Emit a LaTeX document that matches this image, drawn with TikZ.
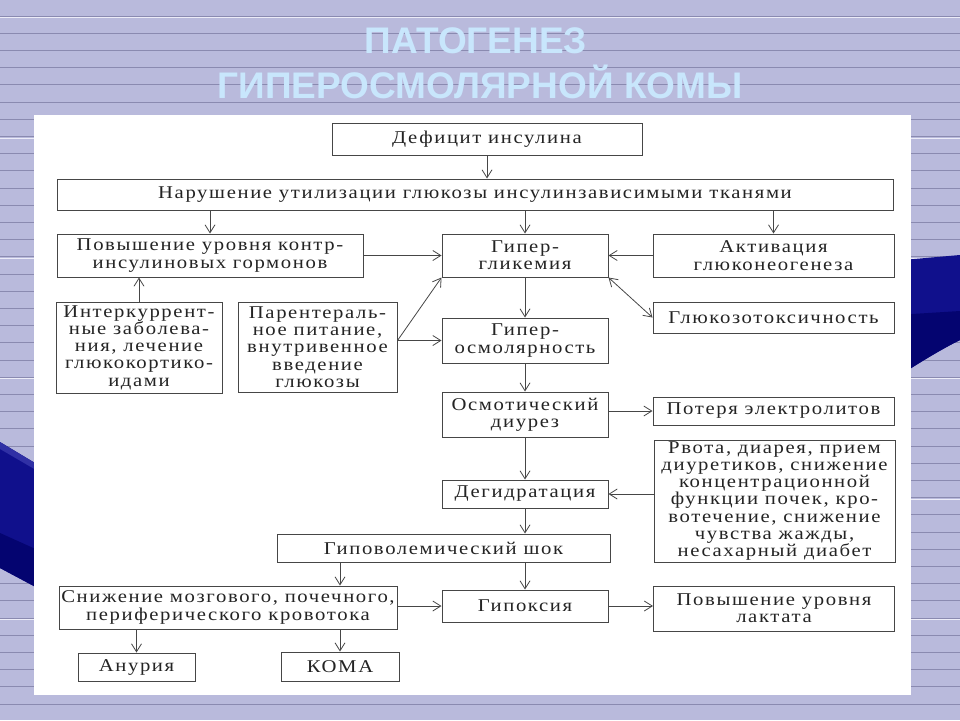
\documentclass[tikz,border=0pt]{standalone}
\usepackage{fontspec}
\setmainfont{Liberation Serif}[FakeStretch=1.15, LetterSpace=9]
\newfontfamily\titlefont{Liberation Sans}
\usetikzlibrary{arrows.meta}
\definecolor{slidebg}{RGB}{185,186,220}
\definecolor{ruleline}{RGB}{138,138,176}
\definecolor{ruleglow}{RGB}{236,236,248}
\definecolor{titleblue}{RGB}{200,230,252}
\definecolor{wavenavy}{RGB}{16,16,140}
\definecolor{wavedeep}{RGB}{4,4,112}
\definecolor{wavelite}{RGB}{48,48,165}
\definecolor{inkgray}{RGB}{36,36,36}
\definecolor{framegray}{RGB}{70,70,70}

\begin{document}
\begin{tikzpicture}[x=1pt, y=-1pt,
    box/.style={draw=framegray, line width=1pt, fill=white, align=center, inner sep=0pt,
        text=inkgray, font=\fontsize{18}{17.3}\selectfont},
    arr/.style={-{Straight Barb[length=8pt,width=10pt]}, draw=framegray, line width=0.8pt},
    dblarr/.style={{Straight Barb[length=8pt,width=10pt]}-{Straight Barb[length=8pt,width=10pt]}, draw=framegray, line width=0.8pt}
]
\useasboundingbox (0,0) rectangle (960,720);

% Ruled slide background
\fill[slidebg] (0,0) rectangle (960,720);
\foreach \k in {0,...,41}
    \draw[ruleline, line width=0.9pt] (0,16+17.2*\k) -- (960,16+17.2*\k);
\foreach \k in {0,7,...,35}
    \draw[ruleglow, line width=0.8pt] (0,17.5+17.2*\k) -- (960,17.5+17.2*\k);

% Left wave
\fill[wavenavy] (0,442) -- (60,478) -- (60,600) -- (0,568) -- cycle;
\fill[wavedeep] (0,533) -- (60,560) -- (60,600) -- (0,568) -- cycle;
\fill[wavelite] (0,442) -- (60,478) -- (60,484) -- (0,449) -- cycle;

% Right wave
\fill[wavenavy] (880,262) -- (960,255) -- (960,340) .. controls (940,350) and (920,362) .. (880,388) -- cycle;
\fill[wavedeep] (880,316) -- (960,311) -- (960,340) .. controls (940,350) and (920,362) .. (880,388) -- cycle;

% Title
\node[font=\titlefont\bfseries\fontsize{37}{37}\selectfont, text=titleblue] (title1) at (476,41) {ПАТОГЕНЕЗ};
\node[font=\titlefont\bfseries\fontsize{37}{37}\selectfont, text=titleblue] (title2) at (480,82) {ГИПЕРОСМОЛЯРНОЙ КОМЫ};

% White sheet
\fill[white] (34,115) rectangle (911,695);

% Top of the scheme
\node[box, minimum width=310, minimum height=32] (def) at (487,139) {Дефицит инсулина};
\node[box, minimum width=836, minimum height=31] (nar) at (475,194.5) {Нарушение утилизации глюкозы инсулинзависимыми тканями};

% Second row
\node[box, minimum width=306, minimum height=43] (kontr) at (210,255.5) {Повышение уровня контр-\\инсулиновых гормонов};
\node[box, minimum width=166, minimum height=43] (glik) at (525,255.5) {Гипер-\\гликемия};
\node[box, minimum width=241, minimum height=43] (akt) at (773.5,255.5) {Активация\\глюконеогенеза};

% Causes on the left
\node[box, minimum width=166, minimum height=91] (inter) at (139,347.5) {Интеркуррент-\\ные заболева-\\ния, лечение\\глюкокортико-\\идами};
\node[box, minimum width=159, minimum height=90] (parent) at (317.5,347) {Парентераль-\\ное питание,\\внутривенное\\введение\\глюкозы};

% Middle column
\node[box, minimum width=166, minimum height=45] (osm) at (525,340.5) {Гипер-\\осмолярность};
\node[box, minimum width=166, minimum height=45] (diur) at (525,414.5) {Осмотический\\диурез};
\node[box, minimum width=166, minimum height=28] (degid) at (525,494) {Дегидратация};
\node[box, minimum width=333, minimum height=28] (shok) at (443.5,548) {Гиповолемический шок};
\node[box, minimum width=166, minimum height=32] (hypox) at (525,606) {Гипоксия};

% Right column
\node[box, minimum width=241, minimum height=31] (tox) at (773.5,317.5) {Глюкозотоксичность};
\node[box, minimum width=241, minimum height=28] (elek) at (773.5,411) {Потеря электролитов};
\node[box, minimum width=241, minimum height=122] (rvota) at (774.5,501) {Рвота, диарея, прием\\диуретиков, снижение\\концентрационной\\функции почек, кро-\\вотечение, снижение\\чувства жажды,\\несахарный диабет};
\node[box, minimum width=241, minimum height=45] (laktat) at (774,608.5) {Повышение уровня\\лактата};

% Bottom row
\node[box, minimum width=338, minimum height=43] (sniz) at (228,607.5) {Снижение мозгового, почечного,\\периферического кровотока};
\node[box, minimum width=117, minimum height=28] (anur) at (136.5,667) {Анурия};
\node[box, minimum width=118, minimum height=29] (koma) at (340,666.5) {КОМА};

% Arrows
\draw[arr] (def) -- (def |- nar.north);
\draw[arr] (nar.south -| kontr) -- (kontr);
\draw[arr] (nar.south -| glik) -- (glik);
\draw[arr] (nar.south -| akt) -- (akt);
\draw[arr] (kontr) -- (glik);
\draw[arr] (akt) -- (glik);
\draw[arr] (inter) -- (inter |- kontr.south);
\coordinate (pe) at (parent.east |- osm);
\draw[arr] (pe) -- (glik.south west);
\draw[arr] (pe) -- (osm);
\draw[dblarr] (glik.south east) -- (tox.west);
\draw[arr] (glik) -- (osm);
\draw[arr] (osm) -- (diur);
\draw[arr] (diur.east |- elek) -- (elek);
\draw[arr] (diur) -- (degid);
\draw[arr] (rvota.west |- degid) -- (degid);
\draw[arr] (degid) -- (degid |- shok.north);
\draw[arr] (degid |- shok.south) -- (hypox);
\draw[arr] (koma |- shok.south) -- (koma |- sniz.north);
\draw[arr] (sniz.east |- hypox) -- (hypox);
\draw[arr] (hypox) -- (laktat.west |- hypox);
\draw[arr] (anur |- sniz.south) -- (anur);
\draw[arr] (koma |- sniz.south) -- (koma);
\end{tikzpicture}
\end{document}
